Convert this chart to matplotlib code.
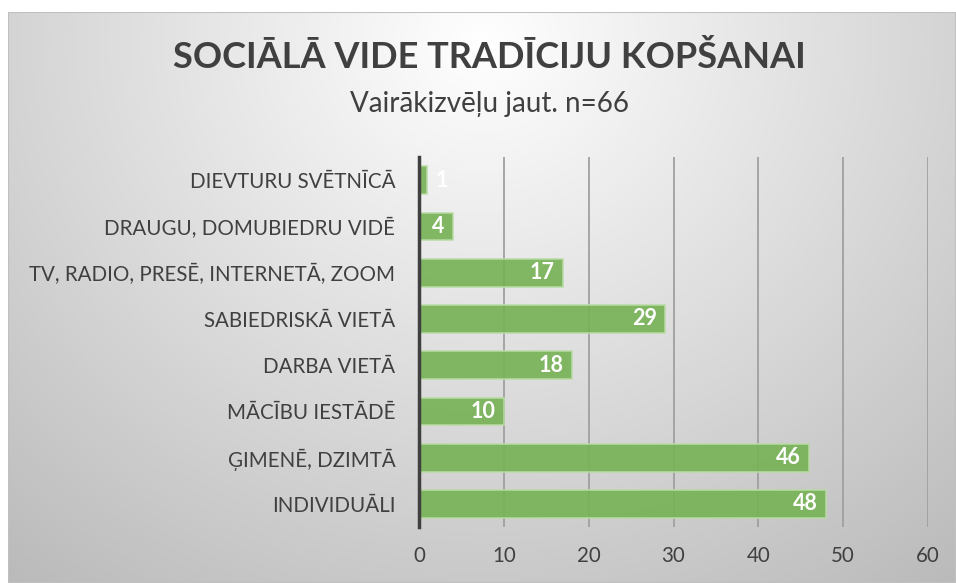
import numpy as np
import matplotlib
matplotlib.use("Agg")
import matplotlib.pyplot as plt
from matplotlib.patches import Rectangle

plt.rcParams['font.family'] = ['Lato', 'DejaVu Sans']

categories = ["INDIVIDUĀLI", "ĢIMENĒ, DZIMTĀ", "MĀCĪBU IESTĀDĒ", "DARBA VIETĀ",
              "SABIEDRISKĀ VIETĀ", "TV, RADIO, PRESĒ, INTERNETĀ, ZOOM",
              "DRAUGU, DOMUBIEDRU VIDĒ", "DIEVTURU SVĒTNĪCĀ"]
values = [48, 46, 10, 18, 29, 17, 4, 1]
xticks = [0, 10, 20, 30, 40, 50, 60]

title = "SOCIĀLĀ VIDE TRADĪCIJU KOPŠANAI"
subtitle = "Vairākizvēļu jaut. n=66"

W, H = 956, 583
fig = plt.figure(figsize=(W / 100, H / 100), dpi=100)
fig.patch.set_facecolor("white")

# background panel with radial gradient (light at top centre)
x0, y0 = 8, 12
bg = fig.add_axes([x0 / W, 0, 1 - x0 / W, 1 - y0 / H])
bg.set_axis_off()
gw, gh = W - x0, H - y0
xx, yy = np.meshgrid(np.arange(gw), np.arange(gh))
d = np.hypot(xx - gw * 0.5, (yy - 30) * 1.1)
g = 1.0 - 0.25 * np.clip(d / 700.0, 0, 1.2)
img = np.dstack([g, g, g])
bg.imshow(img, aspect="auto", extent=[0, 1, 0, 1], origin="upper")
bg.add_patch(Rectangle((0, 0), 1, 1, transform=bg.transAxes, fill=False,
                       edgecolor="#c0c0c0", lw=1.5))
bg.set_xlim(0, 1)
bg.set_ylim(0, 1)

ax = fig.add_axes([419 / W, 1 - 527 / H, (928 - 419) / W, (527 - 157) / H])
ax.patch.set_alpha(0)
y = np.arange(len(categories))
ax.barh(y, values, height=0.6, color="#78b257", alpha=0.92,
        edgecolor="#b9dba6", linewidth=1.2, zorder=3)
ax.set_xlim(0, 60)
ax.set_ylim(-0.5, len(categories) - 0.5)
ax.set_xticks(xticks)
ax.set_yticks(y)
ax.set_yticklabels(categories)
ax.tick_params(axis="y", length=0, pad=17, labelsize=14.8, labelcolor="#404040")
ax.tick_params(axis="x", length=0, pad=14, labelsize=14.8, labelcolor="#404040")
ax.grid(axis="x", color="#a0a0a0", lw=1.3, zorder=1)
for s in ["top", "right", "bottom"]:
    ax.spines[s].set_visible(False)
ax.spines["left"].set_color("#404040")
ax.spines["left"].set_linewidth(2.5)
ax.spines["left"].set_zorder(4)

for yi, v in zip(y, values):
    if v < 3:
        ax.annotate(str(v), (v, yi), xytext=(6, 0), textcoords="offset points",
                    ha="left", va="center", color="white", fontsize=15.5,
                    fontweight="bold", zorder=5)
    else:
        ax.annotate(str(v), (v, yi), xytext=(-6, 0), textcoords="offset points",
                    ha="right", va="center", color="white", fontsize=15.5,
                    fontweight="bold", zorder=5)

fig.text(489 / W, 1 - 58 / H, title, ha="center", va="center", fontsize=26,
         fontweight="bold", color="#404040")
fig.text(489 / W, 1 - 104 / H, subtitle, ha="center", va="center",
         fontsize=20, color="#404040")

fig.savefig("out.png", dpi=100)
